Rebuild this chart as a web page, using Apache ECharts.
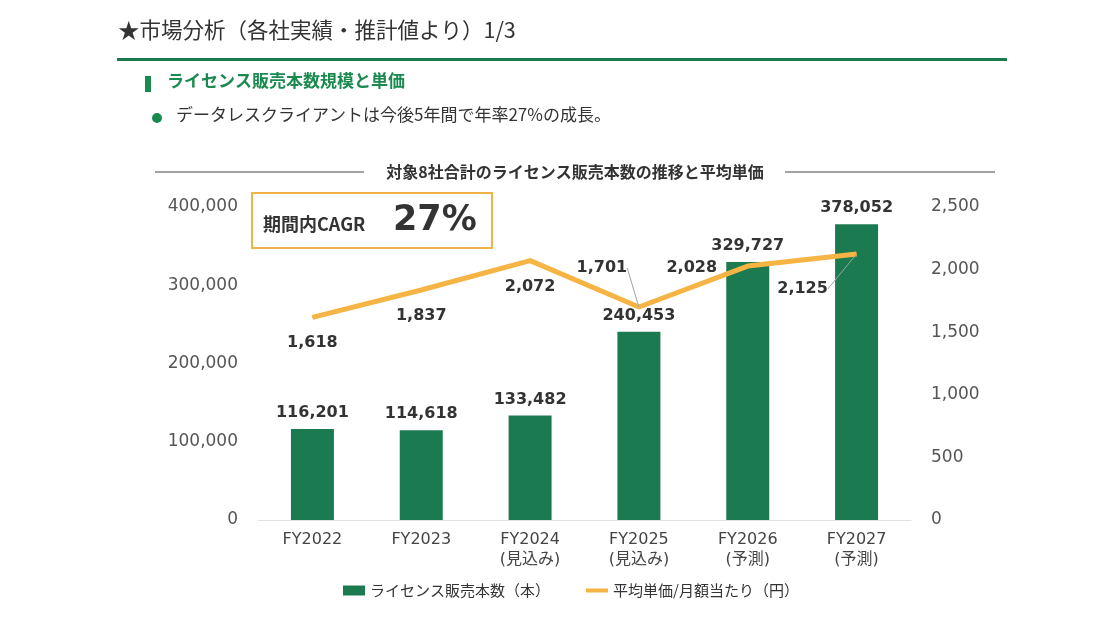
<!DOCTYPE html>
<html>
<head>
  <meta charset="utf-8" />
  <title>ECharts</title>
  <script src="https://cdn.jsdelivr.net/npm/echarts@6"></script>
  <style>
    html, body {
      height: 100%;
      margin: 0;
      padding: 0;
      background: #fff;
      overflow: hidden;
    }
    #main {
      width: 1100px;
      height: 627px;
    }
  </style>
</head>
<body>
  <div id="main"></div>

  <script type="text/javascript">
    const categories = ['FY2022', 'FY2023', 'FY2024\n(見込み)', 'FY2025\n(見込み)', 'FY2026\n(予測)', 'FY2027\n(予測)'];
    const licenses = [116201, 114618, 133482, 240453, 329727, 378052];
    const unitPrice = [1618, 1837, 2072, 1701, 2028, 2125];
    const leftTicks = [0, 100000, 200000, 300000, 400000];
    const rightTicks = [0, 500, 1000, 1500, 2000, 2500];

    const FONT = '"Noto Sans CJK JP", "Noto Sans", sans-serif';
    const NUM_FONT = '"DejaVu Sans", "Noto Sans CJK JP", sans-serif';
    const GREEN = '#1c7a50';
    const ORANGE = '#f5b443';

    const myChart = echarts.init(document.getElementById('main'));

    // where each price label sits relative to its point (dx, dy)
    const priceLabelShift = [
      [0, 25], [0, 26], [0, 26], [-37, -39], [-56, 2], [-54, 35]
    ];

    const fmt = v => v.toLocaleString('en-US');

    const option = {
      textStyle: { fontFamily: FONT },
      animation: false,
      grid: { left: 258, right: 189, top: 207, bottom: 107 },
      legend: {
        bottom: 24,
        left: 338,
        itemGap: 34,
        itemWidth: 22,
        itemHeight: 10,
        textStyle: { fontSize: 15, color: '#333', fontFamily: FONT },
        data: [
          { name: 'ライセンス販売本数（本）', icon: 'rect' },
          { name: '平均単価/月額当たり（円）', itemStyle: { opacity: 0 }, lineStyle: { width: 4 } }
        ]
      },
      xAxis: {
        type: 'category',
        data: categories,
        axisLine: { show: true, lineStyle: { color: '#e2e2e2' } },
        axisTick: { show: false },
        axisLabel: { color: '#444', fontSize: 16, lineHeight: 20, margin: 10, fontFamily: NUM_FONT }
      },
      yAxis: [
        {
          type: 'value',
          min: leftTicks[0],
          max: leftTicks[leftTicks.length - 1],
          interval: 100000,
          splitLine: { show: false },
          axisLabel: { color: '#555', fontSize: 17, margin: 20, fontFamily: NUM_FONT, formatter: fmt }
        },
        {
          type: 'value',
          min: rightTicks[0],
          max: rightTicks[rightTicks.length - 1],
          interval: 500,
          splitLine: { show: false },
          axisLabel: { color: '#555', fontSize: 17, margin: 20, fontFamily: NUM_FONT, formatter: fmt }
        }
      ],
      series: [
        {
          name: 'ライセンス販売本数（本）',
          type: 'bar',
          barWidth: 43,
          itemStyle: { color: GREEN },
          label: {
            show: true,
            position: 'top',
            distance: 8,
            color: '#333',
            fontSize: 16,
            fontWeight: 'bold',
            fontFamily: NUM_FONT,
            formatter: p => fmt(p.value)
          },
          data: licenses
        },
        {
          name: '平均単価/月額当たり（円）',
          type: 'line',
          yAxisIndex: 1,
          symbol: 'circle',
          symbolSize: 1,
          showSymbol: true,
          lineStyle: { color: ORANGE, width: 5 },
          itemStyle: { color: ORANGE },
          label: {
            show: true,
            position: 'inside',
            color: '#333',
            fontSize: 16,
            fontWeight: 'bold',
            fontFamily: NUM_FONT,
            formatter: p => fmt(p.value)
          },
          labelLine: { show: true, lineStyle: { color: '#9aa6a6', width: 1 } },
          labelLayout: p => ({
            dx: priceLabelShift[p.dataIndex][0],
            dy: priceLabelShift[p.dataIndex][1]
          }),
          data: unitPrice.map((v, i) => ({
            value: v,
            labelLine: { show: i === 3 || i === 5 }
          }))
        }
      ],
      graphic: [
        {
          type: 'text', left: 118, top: 19,
          style: { text: '★市場分析（各社実績・推計値より）1/3', fontSize: 21.5, fill: '#333', fontFamily: FONT }
        },
        {
          type: 'rect', shape: { x: 117, y: 58, width: 890, height: 3 },
          style: { fill: '#1a7a4c' }
        },
        {
          type: 'rect', shape: { x: 145, y: 76, width: 6, height: 16 },
          style: { fill: '#1a8a50' }
        },
        {
          type: 'text', left: 167, top: 72,
          style: { text: 'ライセンス販売本数規模と単価', fontSize: 17, fontWeight: 'bold', fill: '#1a8a50', fontFamily: FONT }
        },
        {
          type: 'circle', shape: { cx: 157, cy: 118, r: 5 },
          style: { fill: '#1a8a50' }
        },
        {
          type: 'text', left: 176, top: 106,
          style: { text: 'データレスクライアントは今後5年間で年率27%の成長。', fontSize: 17, fill: '#333', fontFamily: FONT }
        },
        {
          type: 'line', shape: { x1: 155, y1: 172, x2: 364, y2: 172 },
          style: { stroke: '#444', lineWidth: 1 }
        },
        {
          type: 'line', shape: { x1: 785, y1: 172, x2: 995, y2: 172 },
          style: { stroke: '#444', lineWidth: 1 }
        },
        {
          type: 'text', x: 575, y: 172,
          style: {
            text: '対象8社合計のライセンス販売本数の推移と平均単価',
            fontSize: 16, fontWeight: 'bold', fill: '#333', fontFamily: FONT,
            align: 'center', verticalAlign: 'middle'
          }
        },
        {
          type: 'rect', shape: { x: 252, y: 193, width: 240, height: 55 },
          style: { fill: '#fff', stroke: '#f0b34a', lineWidth: 2 }
        },
        {
          type: 'text', x: 263, y: 224,
          style: { text: '期間内CAGR', fontSize: 18, fontWeight: 'bold', fill: '#333', fontFamily: FONT, verticalAlign: 'middle' }
        },
        {
          type: 'text', x: 393, y: 221,
          style: { text: '27%', fontSize: 35, fontWeight: 'bold', fill: '#333', fontFamily: NUM_FONT, verticalAlign: 'middle' }
        }
      ]
    };

    myChart.setOption(option);
  </script>
</body>
</html>
